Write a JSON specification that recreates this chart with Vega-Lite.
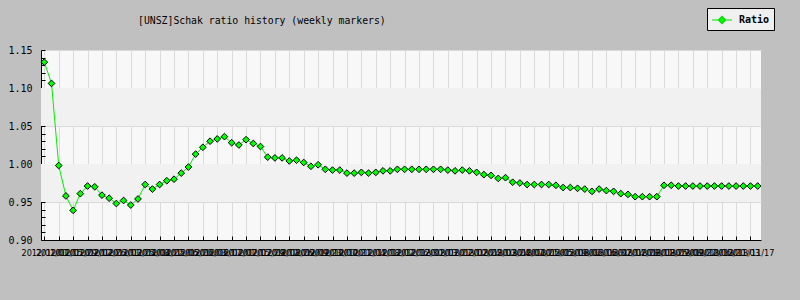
{
  "$schema": "https://vega.github.io/schema/vega-lite/v6.json",
  "width": 720,
  "height": 190,
  "autosize": {"type": "none"},
  "padding": {"left": 41, "top": 50, "right": 39, "bottom": 60},
  "background": "#c0c0c0",
  "config": {"view": {"fill": "#f8f8f8", "stroke": null}, "font": "DejaVu Sans Mono"},
  "title": {"text": "[UNSZ]Schak ratio history (weekly markers)", "anchor": "start", "frame": "group", "dx": 97, "offset": -18, "font": "DejaVu Sans Mono", "fontSize": 9.8, "fontWeight": "normal", "color": "#000000"},
  "datasets": {
    "bands": [{"lo": 1.05, "hi": 1.10}, {"lo": 0.95, "hi": 1.00}],
    "series": [
      {"week": "2012/01/01", "ratio": 1.134},
      {"week": "2012/01/08", "ratio": 1.106},
      {"week": "2012/01/15", "ratio": 0.998},
      {"week": "2012/01/22", "ratio": 0.958},
      {"week": "2012/01/29", "ratio": 0.939},
      {"week": "2012/02/05", "ratio": 0.961},
      {"week": "2012/02/12", "ratio": 0.971},
      {"week": "2012/02/19", "ratio": 0.970},
      {"week": "2012/02/26", "ratio": 0.959},
      {"week": "2012/03/04", "ratio": 0.955},
      {"week": "2012/03/11", "ratio": 0.948},
      {"week": "2012/03/18", "ratio": 0.952},
      {"week": "2012/03/25", "ratio": 0.946},
      {"week": "2012/04/01", "ratio": 0.954},
      {"week": "2012/04/08", "ratio": 0.973},
      {"week": "2012/04/15", "ratio": 0.967},
      {"week": "2012/04/22", "ratio": 0.973},
      {"week": "2012/04/29", "ratio": 0.978},
      {"week": "2012/05/06", "ratio": 0.980},
      {"week": "2012/05/13", "ratio": 0.988},
      {"week": "2012/05/20", "ratio": 0.996},
      {"week": "2012/05/27", "ratio": 1.013},
      {"week": "2012/06/03", "ratio": 1.022},
      {"week": "2012/06/10", "ratio": 1.030},
      {"week": "2012/06/17", "ratio": 1.033},
      {"week": "2012/06/24", "ratio": 1.036},
      {"week": "2012/07/01", "ratio": 1.028},
      {"week": "2012/07/08", "ratio": 1.025},
      {"week": "2012/07/15", "ratio": 1.032},
      {"week": "2012/07/22", "ratio": 1.027},
      {"week": "2012/07/29", "ratio": 1.023},
      {"week": "2012/08/05", "ratio": 1.009},
      {"week": "2012/08/12", "ratio": 1.008},
      {"week": "2012/08/19", "ratio": 1.008},
      {"week": "2012/08/26", "ratio": 1.004},
      {"week": "2012/09/02", "ratio": 1.005},
      {"week": "2012/09/09", "ratio": 1.002},
      {"week": "2012/09/16", "ratio": 0.997},
      {"week": "2012/09/23", "ratio": 0.999},
      {"week": "2012/09/30", "ratio": 0.993},
      {"week": "2012/10/07", "ratio": 0.992},
      {"week": "2012/10/14", "ratio": 0.992},
      {"week": "2012/10/21", "ratio": 0.988},
      {"week": "2012/10/28", "ratio": 0.988},
      {"week": "2012/11/04", "ratio": 0.989},
      {"week": "2012/11/11", "ratio": 0.988},
      {"week": "2012/11/18", "ratio": 0.989},
      {"week": "2012/11/25", "ratio": 0.991},
      {"week": "2012/12/02", "ratio": 0.991},
      {"week": "2012/12/09", "ratio": 0.993},
      {"week": "2012/12/16", "ratio": 0.993},
      {"week": "2012/12/23", "ratio": 0.993},
      {"week": "2012/12/30", "ratio": 0.993},
      {"week": "2013/01/06", "ratio": 0.993},
      {"week": "2013/01/13", "ratio": 0.993},
      {"week": "2013/01/20", "ratio": 0.993},
      {"week": "2013/01/27", "ratio": 0.992},
      {"week": "2013/02/03", "ratio": 0.991},
      {"week": "2013/02/10", "ratio": 0.992},
      {"week": "2013/02/17", "ratio": 0.991},
      {"week": "2013/02/24", "ratio": 0.989},
      {"week": "2013/03/03", "ratio": 0.986},
      {"week": "2013/03/10", "ratio": 0.985},
      {"week": "2013/03/17", "ratio": 0.981},
      {"week": "2013/03/24", "ratio": 0.982},
      {"week": "2013/03/31", "ratio": 0.976},
      {"week": "2013/04/07", "ratio": 0.975},
      {"week": "2013/04/14", "ratio": 0.973},
      {"week": "2013/04/21", "ratio": 0.973},
      {"week": "2013/04/28", "ratio": 0.973},
      {"week": "2013/05/05", "ratio": 0.973},
      {"week": "2013/05/12", "ratio": 0.972},
      {"week": "2013/05/19", "ratio": 0.969},
      {"week": "2013/05/26", "ratio": 0.969},
      {"week": "2013/06/02", "ratio": 0.968},
      {"week": "2013/06/09", "ratio": 0.967},
      {"week": "2013/06/16", "ratio": 0.964},
      {"week": "2013/06/23", "ratio": 0.967},
      {"week": "2013/06/30", "ratio": 0.965},
      {"week": "2013/07/07", "ratio": 0.964},
      {"week": "2013/07/14", "ratio": 0.961},
      {"week": "2013/07/21", "ratio": 0.960},
      {"week": "2013/07/28", "ratio": 0.957},
      {"week": "2013/08/04", "ratio": 0.957},
      {"week": "2013/08/11", "ratio": 0.957},
      {"week": "2013/08/18", "ratio": 0.957},
      {"week": "2013/08/25", "ratio": 0.972},
      {"week": "2013/09/01", "ratio": 0.972},
      {"week": "2013/09/08", "ratio": 0.971},
      {"week": "2013/09/15", "ratio": 0.971},
      {"week": "2013/09/22", "ratio": 0.971},
      {"week": "2013/09/29", "ratio": 0.971},
      {"week": "2013/10/06", "ratio": 0.971},
      {"week": "2013/10/13", "ratio": 0.971},
      {"week": "2013/10/20", "ratio": 0.971},
      {"week": "2013/10/27", "ratio": 0.971},
      {"week": "2013/11/03", "ratio": 0.971},
      {"week": "2013/11/10", "ratio": 0.971},
      {"week": "2013/11/17", "ratio": 0.971},
      {"week": "2013/11/24", "ratio": 0.971}
    ]
  },
  "layer": [
    {
      "data": {"name": "bands"},
      "mark": {"type": "rect", "color": "#f1f1f1"},
      "encoding": {
        "y": {
          "field": "lo", "type": "quantitative",
          "scale": {"domain": [0.9, 1.15], "nice": false, "zero": false},
          "axis": {
            "title": null,
            "values": [0.9,0.91,0.92,0.93,0.94,0.95,0.96,0.97,0.98,0.99,1.0,1.01,1.02,1.03,1.04,1.05,1.06,1.07,1.08,1.09,1.1,1.11,1.12,1.13,1.14,1.15],
            "labelExpr": "round(datum.value*100) % 5 == 0 ? format(datum.value, '.2f') : ''",
            "labelFont": "DejaVu Sans Mono", "labelFontSize": 10, "labelColor": "#000000",
            "labelPadding": 13,
            "tickSize": -4, "tickColor": "#000000",
            "domainColor": "#000000", "domainWidth": 1,
            "grid": true, "gridColor": "#dadada", "gridWidth": 1,
            "gridOpacity": {"condition": {"test": "round(datum.value*100) % 5 != 0", "value": 0}, "value": 1}
          }
        },
        "y2": {"field": "hi"}
      }
    },
    {
      "data": {"name": "series"},
      "encoding": {
        "x": {
          "field": "week", "type": "ordinal", "sort": null,
          "scale": {"type": "point", "padding": 0.46},
          "axis": {
            "title": null,
            "values": ["2012/01/01","2012/01/15","2012/01/29","2012/02/12","2012/02/26","2012/03/11","2012/03/25","2012/04/08","2012/04/22","2012/05/06","2012/05/20","2012/06/03","2012/06/17","2012/07/01","2012/07/15","2012/07/29","2012/08/12","2012/08/26","2012/09/09","2012/09/23","2012/10/07","2012/10/21","2012/11/04","2012/11/18","2012/12/02","2012/12/16","2012/12/30","2013/01/13","2013/01/27","2013/02/10","2013/02/24","2013/03/10","2013/03/24","2013/04/07","2013/04/21","2013/05/05","2013/05/19","2013/06/02","2013/06/16","2013/06/30","2013/07/14","2013/07/28","2013/08/11","2013/08/25","2013/09/08","2013/09/22","2013/10/06","2013/10/20","2013/11/03","2013/11/17"],
            "labelAngle": 0, "labelOverlap": false, "labelBound": false, "labelFlush": false,
            "labelFont": "DejaVu Sans Condensed", "labelFontSize": 9, "labelColor": "#000000",
            "labelPadding": 12,
            "tickSize": -4, "tickColor": "#000000",
            "domainColor": "#000000", "domainWidth": 1,
            "grid": true, "gridColor": "#dadada", "gridWidth": 1
          }
        },
        "y": {
          "field": "ratio", "type": "quantitative",
          "scale": {"domain": [0.9, 1.15], "nice": false, "zero": false},
          "axis": {
            "title": null,
            "values": [0.9,0.91,0.92,0.93,0.94,0.95,0.96,0.97,0.98,0.99,1.0,1.01,1.02,1.03,1.04,1.05,1.06,1.07,1.08,1.09,1.1,1.11,1.12,1.13,1.14,1.15],
            "labelExpr": "round(datum.value*100) % 5 == 0 ? format(datum.value, '.2f') : ''",
            "labelFont": "DejaVu Sans Mono", "labelFontSize": 10, "labelColor": "#000000",
            "labelPadding": 13,
            "tickSize": -4, "tickColor": "#000000",
            "domainColor": "#000000", "domainWidth": 1,
            "grid": true, "gridColor": "#dadada", "gridWidth": 1,
            "gridOpacity": {"condition": {"test": "round(datum.value*100) % 5 != 0", "value": 0}, "value": 1}
          }
        }
      },
      "layer": [
        {"mark": {"type": "line", "color": "#00ee00", "strokeWidth": 1}},
        {
          "mark": {"type": "point", "shape": "diamond", "filled": true, "size": 45, "stroke": "#000000", "strokeWidth": 1, "opacity": 1},
          "encoding": {
            "color": {
              "datum": "Ratio", "type": "nominal",
              "scale": {"range": ["#00ff00"]},
              "legend": {
                "title": null, "orient": "none", "legendX": 666, "legendY": -42,
                "fillColor": "#f0f0f0", "strokeColor": "#000000", "padding": 4,
                "symbolType": "M-1.4,0L-0.5,0M0.5,0L1.4,0M0,-0.5L0.5,0L0,0.5L-0.5,0Z",
                "symbolSize": 200, "symbolOffset": 3, "symbolFillColor": "#00ff00", "symbolStrokeColor": "#00dd00", "symbolStrokeWidth": 1.2,
                "labelOffset": 9,
                "labelFont": "DejaVu Sans Mono", "labelFontSize": 10, "labelFontWeight": "bold", "labelColor": "#000000"
              }
            }
          }
        }
      ]
    }
  ]
}
